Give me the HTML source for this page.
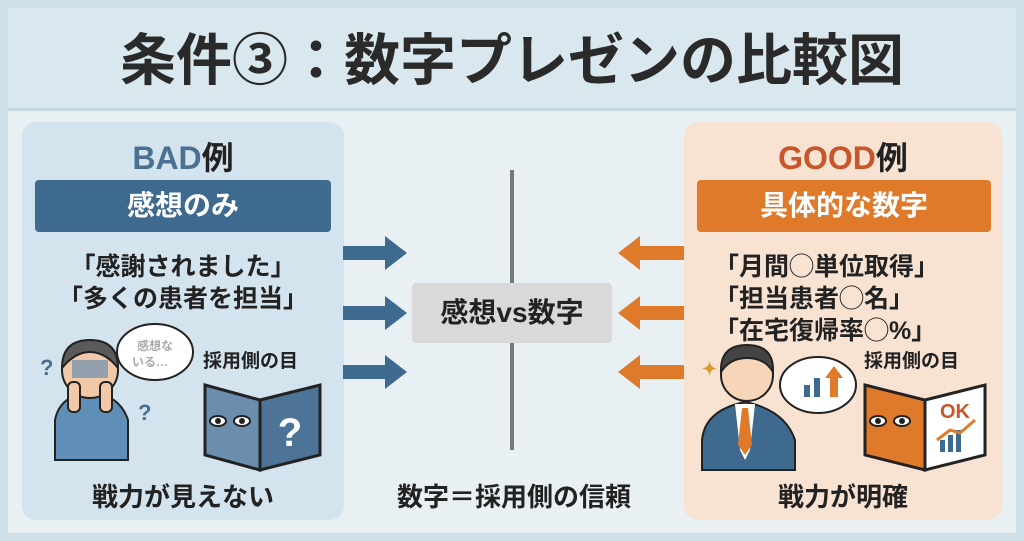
<!DOCTYPE html>
<html><head><meta charset="utf-8"><style>
body{margin:0;width:1024px;height:541px;overflow:hidden;background:#cfe0e9;font-family:"Liberation Sans","Noto Sans CJK JP",sans-serif;font-weight:bold;color:#222;position:relative}
.a{position:absolute}
.t{position:absolute;white-space:nowrap}
</style></head><body>
<div class="a" style="left:8px;top:8px;width:1008px;height:525px;background:#e8f0f4"></div>
<div class="a" style="left:8px;top:8px;width:1008px;height:100px;background:#d9e8ef"></div>
<div class="a" style="left:8px;top:108px;width:1008px;height:3px;background:#c5d8e2"></div>
<div class="t" style="left:0;width:1024px;text-align:center;top:26px;font-size:56px;line-height:70px;color:#2a2a2a">条件③：数字プレゼンの比較図</div>

<div class="a" style="left:22px;top:122px;width:322px;height:398px;background:#d4e4ee;border-radius:14px"></div>
<div class="a" style="left:684px;top:122px;width:318px;height:398px;background:#f8e3d3;border-radius:14px"></div>

<div class="t" style="left:22px;width:322px;text-align:center;top:138px;font-size:32px;line-height:40px"><span style="color:#4a7191">BAD</span>例</div>
<div class="a" style="left:35px;top:180px;width:296px;height:52px;background:#3f6a8f;border-radius:4px"></div>
<div class="t" style="left:35px;width:296px;text-align:center;top:186px;font-size:28px;line-height:40px;color:#fff">感想のみ</div>
<div class="t" style="left:22px;width:322px;text-align:center;top:251px;font-size:25px;line-height:32px">「感謝されました」</div>
<div class="t" style="left:22px;width:322px;text-align:center;top:283px;font-size:25px;line-height:32px">「多くの患者を担当」</div>

<div class="t" style="left:684px;width:318px;text-align:center;top:138px;font-size:32px;line-height:40px"><span style="color:#c9552b">GOOD</span>例</div>
<div class="a" style="left:697px;top:180px;width:294px;height:52px;background:#e07a2b;border-radius:4px"></div>
<div class="t" style="left:697px;width:294px;text-align:center;top:186px;font-size:28px;line-height:40px;color:#fff">具体的な数字</div>
<div class="t" style="left:714px;top:251px;font-size:25px;line-height:32px">「月間◯単位取得」</div>
<div class="t" style="left:714px;top:283px;font-size:25px;line-height:32px">「担当患者◯名」</div>
<div class="t" style="left:714px;top:315px;font-size:25px;line-height:32px">「在宅復帰率◯%」</div>

<svg class="a" style="left:0;top:0" width="1024" height="541">
<line x1="512" y1="170" x2="512" y2="450" stroke="#777" stroke-width="4"/>
<g fill="#3f6a8f">
<polygon points="343,246 385,246 385,236 407,253 385,270 385,260 343,260"/>
<polygon points="343,306 385,306 385,296 407,313 385,330 385,320 343,320"/>
<polygon points="343,365 385,365 385,355 407,372 385,389 385,379 343,379"/>
</g>
<g fill="#e07a2b">
<polygon points="684,246 640,246 640,236 618,253 640,270 640,260 684,260"/>
<polygon points="684,306 640,306 640,296 618,313 640,330 640,320 684,320"/>
<polygon points="684,365 640,365 640,355 618,372 640,389 640,379 684,379"/>
</g>
<path d="M55,460 L55,420 Q60,395 90,392 Q120,395 128,420 L128,460 Z" fill="#5f8fb6" stroke="#222" stroke-width="2"/>
<circle cx="90" cy="370" r="28" fill="#f2c9a8" stroke="#222" stroke-width="2"/>
<path d="M62,368 Q62,340 90,340 Q118,340 118,368 Q105,352 90,352 Q75,352 62,368Z" fill="#5a5a5a" stroke="#222" stroke-width="2"/>
<rect x="72" y="360" width="36" height="18" fill="#6b8fb0" opacity="0.7"/>
<rect x="68" y="382" width="12" height="30" rx="5" fill="#f2c9a8" stroke="#222" stroke-width="2"/>
<rect x="100" y="382" width="12" height="30" rx="5" fill="#f2c9a8" stroke="#222" stroke-width="2"/>
<text x="40" y="375" font-size="22" fill="#4a6f90" font-family="Liberation Sans">?</text>
<text x="138" y="420" font-size="22" fill="#4a6f90" font-family="Liberation Sans">?</text>
<ellipse cx="155" cy="352" rx="38" ry="28" fill="#fff" stroke="#222" stroke-width="2"/>
<text x="155" y="350" font-size="12" fill="#aaa" text-anchor="middle">感想な</text>
<text x="150" y="366" font-size="12" fill="#aaa" text-anchor="middle">いる…</text>
<polygon points="205,385 260,400 260,470 205,455" fill="#6b8eae" stroke="#222" stroke-width="3"/>
<polygon points="260,400 320,385 320,455 260,470" fill="#4d7396" stroke="#222" stroke-width="3"/>
<text x="290" y="446" font-size="40" fill="#fff" text-anchor="middle" font-family="Liberation Sans" font-weight="bold">?</text>
<ellipse cx="218" cy="421" rx="8" ry="5" fill="#fff" stroke="#222" stroke-width="2"/><circle cx="218" cy="421" r="3" fill="#222"/>
<ellipse cx="242" cy="421" rx="8" ry="5" fill="#fff" stroke="#222" stroke-width="2"/><circle cx="242" cy="421" r="3" fill="#222"/>
<path d="M702,470 L702,440 Q705,410 745,402 Q785,410 795,440 L795,470 Z" fill="#3f6a8f" stroke="#222" stroke-width="2"/>
<polygon points="735,404 755,404 750,450 745,460 740,450" fill="#fff"/>
<polygon points="742,408 748,408 752,445 745,455 738,445" fill="#e07a2b"/>
<circle cx="747" cy="375" r="26" fill="#f7d5b8" stroke="#222" stroke-width="2"/>
<path d="M721,372 Q720,345 747,345 Q774,345 773,372 Q765,358 747,358 Q730,358 721,372Z" fill="#444" stroke="#222" stroke-width="2"/>
<text x="702" y="375" font-size="18" fill="#d89a2a">✦</text>
<ellipse cx="818" cy="385" rx="38" ry="28" fill="#fff" stroke="#222" stroke-width="2"/>
<rect x="804" y="385" width="6" height="12" fill="#3f6a8f"/><rect x="814" y="378" width="6" height="19" fill="#3f6a8f"/>
<polygon points="830,397 838,397 838,378 843,378 834,366 825,378 830,378" fill="#e07a2b"/>
<polygon points="865,385 925,400 925,470 865,455" fill="#e07a2b" stroke="#222" stroke-width="3"/>
<polygon points="925,400 985,385 985,455 925,470" fill="#fff" stroke="#222" stroke-width="3"/>
<text x="955" y="418" font-size="20" fill="#c9552b" text-anchor="middle" font-family="Liberation Sans" font-weight="bold">OK</text>
<rect x="940" y="440" width="5" height="12" fill="#3f6a8f"/><rect x="948" y="435" width="5" height="17" fill="#3f6a8f"/><rect x="956" y="430" width="5" height="22" fill="#3f6a8f"/>
<polyline points="937,440 950,430 960,433 975,420" fill="none" stroke="#e07a2b" stroke-width="3"/>
<ellipse cx="878" cy="421" rx="8" ry="5" fill="#fff" stroke="#222" stroke-width="2"/><circle cx="878" cy="421" r="3" fill="#222"/>
<ellipse cx="902" cy="421" rx="8" ry="5" fill="#fff" stroke="#222" stroke-width="2"/><circle cx="902" cy="421" r="3" fill="#222"/>
</svg>
<div class="t" style="left:203px;top:350px;font-size:19px;line-height:24px">採用側の目</div>
<div class="t" style="left:864px;top:350px;font-size:19px;line-height:24px">採用側の目</div>

<div class="a" style="left:412px;top:283px;width:200px;height:60px;background:#d9d9d9;border-radius:4px"></div>
<div class="t" style="left:412px;width:200px;text-align:center;top:293px;font-size:28px;line-height:40px">感想vs数字</div>
<div class="t" style="left:22px;width:322px;text-align:center;top:479px;font-size:26px;line-height:36px">戦力が見えない</div>
<div class="t" style="left:684px;width:318px;text-align:center;top:479px;font-size:26px;line-height:36px">戦力が明確</div>
<div class="t" style="left:344px;width:340px;text-align:center;top:479px;font-size:26px;line-height:36px">数字＝採用側の信頼</div>
</body></html>
